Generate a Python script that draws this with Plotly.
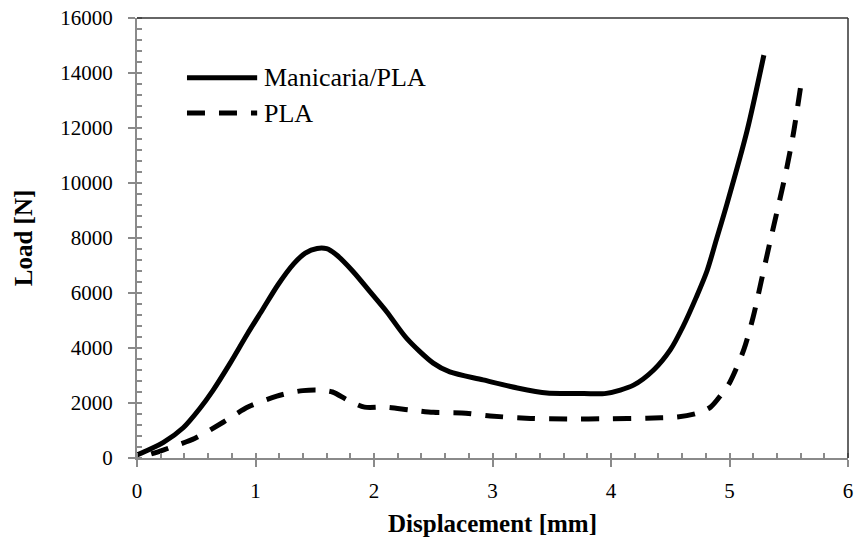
import plotly.graph_objects as go

# ---- data ----
series_names = ["Manicaria/PLA", "PLA"]

disp_manicaria = [0.00, 0.22, 0.39, 0.53, 0.64, 0.785, 0.93, 1.06, 1.19, 1.32, 1.42, 1.52, 1.60,
                  1.685, 1.825, 1.966, 2.107, 2.276, 2.50, 2.64, 2.92, 3.21, 3.46, 3.70, 3.96,
                  4.19, 4.36, 4.50, 4.61, 4.72, 4.81, 4.89, 4.98, 5.15, 5.29]
load_manicaria = [110, 560, 1100, 1800, 2450, 3440, 4500, 5400, 6300, 7050, 7450, 7620, 7610,
                  7380, 6775, 6050, 5320, 4350, 3450, 3130, 2840, 2545, 2360, 2350, 2350,
                  2650, 3200, 3930, 4800, 5850, 6800, 7950, 9260, 11930, 14650]

disp_pla = [0.12, 0.22, 0.49, 0.73, 0.94, 1.18, 1.30, 1.40, 1.52, 1.65, 1.78, 1.92, 2.09,
            2.30, 2.50, 2.74, 2.98, 3.32, 3.63, 3.99, 4.30, 4.56, 4.72, 4.84, 4.93, 5.00, 5.12,
            5.20, 5.27, 5.34, 5.41, 5.48, 5.54, 5.60]
load_pla = [150, 290, 720, 1310, 1860, 2250, 2380, 2450, 2470, 2400, 2100, 1850, 1850,
            1750, 1660, 1640, 1530, 1440, 1420, 1430, 1450, 1490, 1620, 1850, 2300, 2730, 3930,
            5130, 6470, 7820, 9130, 10470, 11820, 13490]

x_tick_vals = [0, 1, 2, 3, 4, 5, 6]
y_tick_vals = [0, 2000, 4000, 6000, 8000, 10000, 12000, 14000, 16000]

x_title = "Displacement [mm]"
y_title = "Load [N]"

# ---- figure ----
FONT = "Liberation Serif"
AXIS_GRAY = "#8a8a8a"

fig = go.Figure()
fig.add_trace(go.Scatter(
    x=disp_manicaria, y=load_manicaria, mode="lines", name=series_names[0],
    line=dict(color="black", width=5, shape="spline", smoothing=0.8),
    showlegend=False))
fig.add_trace(go.Scatter(
    x=disp_pla, y=load_pla, mode="lines", name=series_names[1],
    line=dict(color="black", width=5, dash="18px,14px", shape="spline", smoothing=0.8),
    showlegend=False))

common_axis = dict(
    showgrid=False, zeroline=False, showline=True, linecolor=AXIS_GRAY, linewidth=2,
    ticks="outside", ticklen=7, tickwidth=1.5, tickcolor=AXIS_GRAY, automargin=False,
    tickfont=dict(family=FONT, size=21, color="black"),
)

fig.update_layout(
    width=857, height=542,
    margin=dict(l=137, r=9, t=18, b=84),
    paper_bgcolor="white", plot_bgcolor="white",
    showlegend=False,
    xaxis=dict(
        **common_axis, range=[0, 6], tickvals=x_tick_vals,
        ticktext=[str(v) for v in x_tick_vals], ticklabelstandoff=6,
        minor=dict(dtick=0.2, ticks="inside", ticklen=5, tickwidth=1.5, tickcolor=AXIS_GRAY),
        title=dict(text=x_title, font=dict(family=FONT, size=25, color="black", weight="bold"),
                   standoff=12),
    ),
    yaxis=dict(
        **common_axis, range=[0, 16000], tickvals=y_tick_vals,
        ticktext=[str(v) for v in y_tick_vals], ticklabelstandoff=11,
        minor=dict(dtick=400, ticks="inside", ticklen=5, tickwidth=1.5, tickcolor=AXIS_GRAY),
        title=dict(text=y_title, font=dict(family=FONT, size=25, color="black", weight="bold"),
                   standoff=21),
    ),
    # overlay axes adding the inside half of the major ticks
    xaxis2=dict(matches="x", overlaying="x", side="bottom", showgrid=False, zeroline=False,
                showline=False, showticklabels=False, tickvals=x_tick_vals, automargin=False,
                ticks="inside", ticklen=5, tickwidth=1.5, tickcolor=AXIS_GRAY),
    yaxis2=dict(matches="y", overlaying="y", side="left", showgrid=False, zeroline=False,
                showline=False, showticklabels=False, tickvals=y_tick_vals, automargin=False,
                ticks="inside", ticklen=5, tickwidth=1.5, tickcolor=AXIS_GRAY),
)

# top and right frame lines
fig.add_shape(type="line", xref="paper", yref="paper", x0=0, x1=1, y0=1, y1=1,
              line=dict(color="#333333", width=1.5))
fig.add_shape(type="line", xref="paper", yref="paper", x0=1, x1=1, y0=0, y1=1,
              line=dict(color="#333333", width=1.5))

# legend drawn inside the plot
legend_rows = [(0.864, "solid"), (0.784, "18px,14px")]
for (ypos, dash), name in zip(legend_rows, series_names):
    fig.add_shape(type="line", xref="paper", yref="paper", x0=0.0703, x1=0.169, y0=ypos, y1=ypos,
                  line=dict(color="black", width=5, dash=dash))
    fig.add_annotation(xref="paper", yref="paper", x=0.176, y=ypos, text=name,
                       showarrow=False, xanchor="left", yanchor="middle",
                       font=dict(family=FONT, size=26, color="black"))

# remove the page's default body margin so the figure sits at the window's corner
fig.write_html("out.html", config={"displayModeBar": False},
               post_script="document.body.style.margin='0';")
